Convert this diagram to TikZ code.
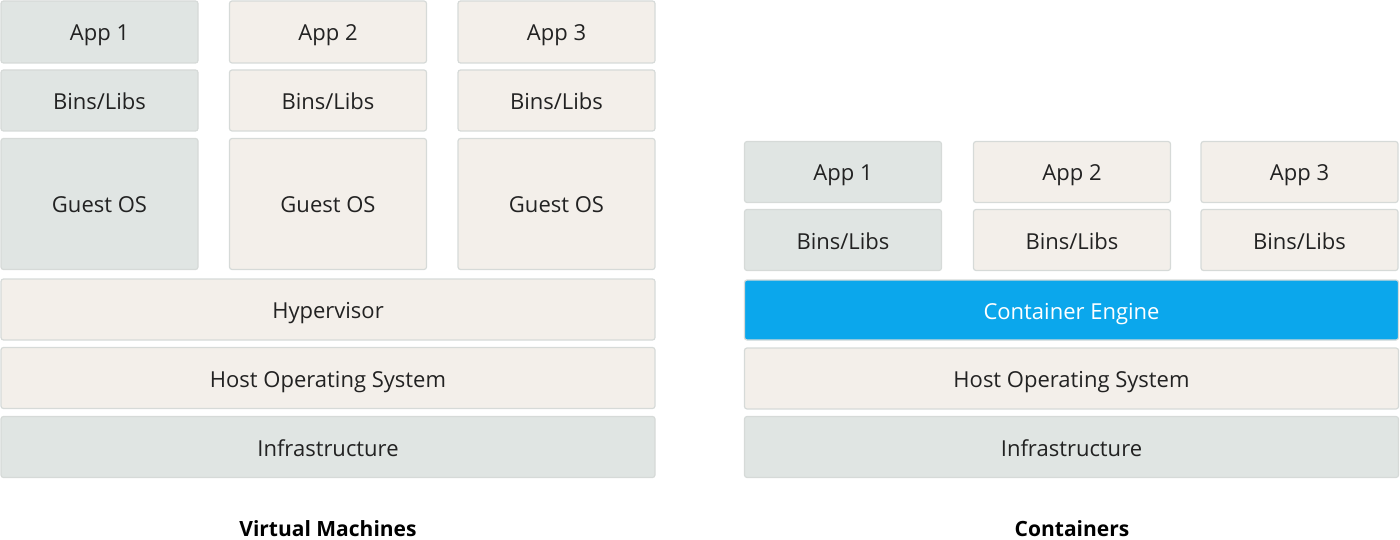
\documentclass[tikz,border=0pt]{standalone}
\usepackage{fontspec}
\setmainfont{Open Sans}
\definecolor{gbox}{HTML}{E0E5E3}
\definecolor{bbox}{HTML}{F3EFEA}
\definecolor{bd}{HTML}{D6DAD8}
\definecolor{blu}{HTML}{0BA7EC}
\definecolor{txt}{HTML}{222222}
\begin{document}
\begin{tikzpicture}[x=1pt,y=-1pt,
  base/.style={draw=bd, line width=1.2pt, rounded corners=2.5pt, inner sep=0pt, text=txt,
    font=\fontsize{22}{26}\selectfont, text height=18pt, text depth=0pt},
  gb/.style={base, fill=gbox},
  bb/.style={base, fill=bbox},
  eb/.style={base, fill=blu, draw=bd, text=white},
  title/.style={font=\fontsize{21}{25}\selectfont\bfseries, text=black}]
\useasboundingbox (0,0) rectangle (1400,540);
% Virtual machines
\node[gb, minimum width=197pt, minimum height=62pt] (va1) at (99.5,32) {App 1};
\node[bb, minimum width=197pt, minimum height=62pt] (va2) at (328,32) {App 2};
\node[bb, minimum width=197pt, minimum height=62pt] (va3) at (556.5,32) {App 3};
\node[gb, minimum width=197pt, minimum height=61pt] (vb1) at (99.5,100.5) {Bins/Libs};
\node[bb, minimum width=197pt, minimum height=61pt] (vb2) at (328,100.5) {Bins/Libs};
\node[bb, minimum width=197pt, minimum height=61pt] (vb3) at (556.5,100.5) {Bins/Libs};
\node[gb, minimum width=197pt, minimum height=131pt] (vg1) at (99.5,204) {Guest OS};
\node[bb, minimum width=197pt, minimum height=131pt] (vg2) at (328,204) {Guest OS};
\node[bb, minimum width=197pt, minimum height=131pt] (vg3) at (556.5,204) {Guest OS};
\node[bb, minimum width=654pt, minimum height=61pt] (hyp) at (328,309.5) {Hypervisor};
\node[bb, minimum width=654pt, minimum height=61pt] (vhos) at (328,378) {Host Operating System};
\node[gb, minimum width=654pt, minimum height=61pt] (vinf) at (328,447) {Infrastructure};
\node[title] (vmt) at (328,529) {Virtual Machines};
% Containers
\node[gb, minimum width=197pt, minimum height=61pt] (ca1) at (843,172) {App 1};
\node[bb, minimum width=197pt, minimum height=61pt] (ca2) at (1072,172) {App 2};
\node[bb, minimum width=197pt, minimum height=61pt] (ca3) at (1299.5,172) {App 3};
\node[gb, minimum width=197pt, minimum height=61pt] (cb1) at (843,240) {Bins/Libs};
\node[bb, minimum width=197pt, minimum height=61pt] (cb2) at (1072,240) {Bins/Libs};
\node[bb, minimum width=197pt, minimum height=61pt] (cb3) at (1299.5,240) {Bins/Libs};
\node[eb, minimum width=654pt, minimum height=60pt] (eng) at (1071.5,310) {Container Engine};
\node[bb, minimum width=654pt, minimum height=61pt] (chos) at (1071.5,378.5) {Host Operating System};
\node[gb, minimum width=654pt, minimum height=61pt] (cinf) at (1071.5,447) {Infrastructure};
\node[title] (ct) at (1072,529) {Containers};
\end{tikzpicture}
\end{document}
